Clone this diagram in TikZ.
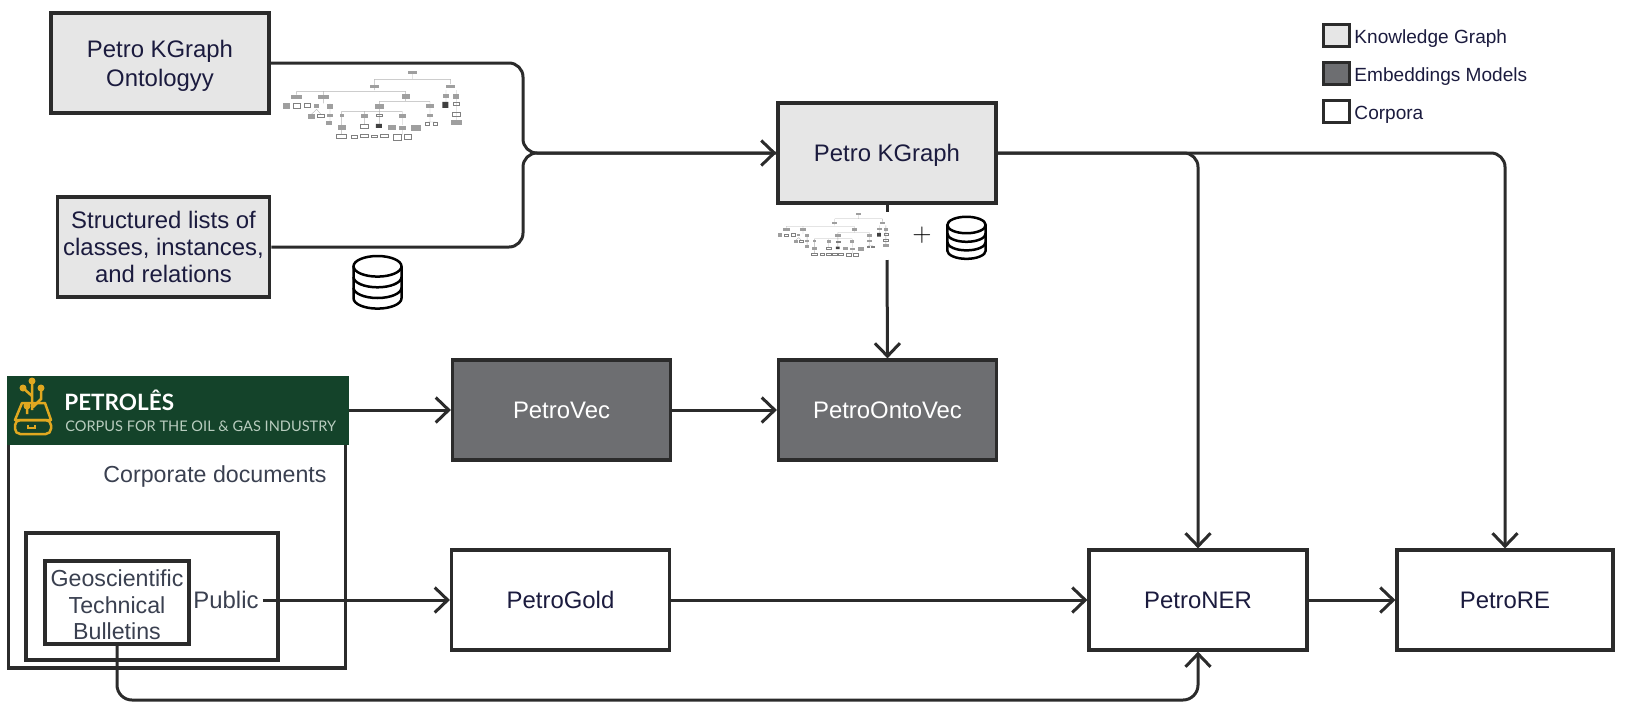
\documentclass[tikz,border=0pt]{standalone}
\usepackage{xcolor}
\usepackage{fontspec}
\setmainfont{Liberation Sans}
\newfontfamily\logofont{Lato}
\usetikzlibrary{arrows.meta,positioning}
\definecolor{colframe}{HTML}{2B2B2B}
\definecolor{colkg}{HTML}{E6E6E6}
\definecolor{colemb}{HTML}{6D6E71}
\definecolor{colink}{HTML}{1B1B3E}
\definecolor{colcorp}{HTML}{3A4050}
\definecolor{colbanner}{HTML}{14432A}
\definecolor{colgold}{HTML}{E0A820}
\definecolor{colsub}{HTML}{B9CDBF}
\tikzstyle{conn}=[colframe,line width=0.06cm,-{Straight Barb[length=0.26cm,width=0.5cm]}]
\tikzstyle{line}=[colframe,line width=0.06cm]
\tikzstyle{box}=[draw=colframe,line width=0.065cm,minimum width=4.36cm,minimum height=2cm,align=center,text=colink,text depth=0pt,font=\fontsize{13.6}{15.8}\selectfont]
\tikzstyle{kgbox}=[box,fill=colkg]
\tikzstyle{embbox}=[box,fill=colemb,text=white]
\tikzstyle{corpbox}=[box,fill=white]
\tikzstyle{legbox}=[draw=colframe,line width=0.065cm,minimum width=0.52cm,minimum height=0.44cm,inner sep=0pt]
\tikzstyle{legtext}=[text=colink,font=\fontsize{10.85}{13}\selectfont,inner sep=0pt,text depth=0pt,yshift=-0.03cm]
\tikzset{
  dbicon/.pic={
    \draw[black,line width=0.05cm] (0,0) ellipse [x radius=24,y radius=10.3];
    \draw[black,line width=0.05cm] (-24,0) -- (-24,32) arc [start angle=180,end angle=0,x radius=24,y radius=10.3] -- (24,0);
    \draw[black,line width=0.05cm] (-24,10.7) arc [start angle=180,end angle=0,x radius=24,y radius=10.3];
    \draw[black,line width=0.05cm] (-24,21.4) arc [start angle=180,end angle=0,x radius=24,y radius=10.3];
  },
  minitree/.pic={
    \draw[gray!60,line width=0.2pt] (457,67) -- (457,88) (343,88) -- (572,88) (343,88) -- (343,120) (572,88) -- (572,102)
      (110,124) -- (437,124) (110,124) -- (110,134) (190,124) -- (190,160) (437,124) -- (437,154) (358,154) -- (510,154)
      (358,154) -- (358,184) (245,184) -- (427,184) (245,184) -- (245,225) (314,184) -- (314,225) (358,184) -- (358,222)
      (427,184) -- (427,225) (510,154) -- (510,216) (503,216) -- (526,216) (558,120) -- (558,160) (589,120) -- (589,210)
      (170,178) -- (155,192) (170,178) -- (182,192) (210,160) -- (210,214) (245,240) -- (245,252) (427,240) -- (427,255);
    \foreach \x/\y/\w/\h in {457/67/26/10,343/109/26/10,572/110/26/10,110/141/32/14,190/141/32/14,437/139/24/14,558/138/20/12,589/140/18/14,
      79/167/20/18,170/167/16/12,210/169/20/14,358/169/26/16,510/168/26/14,155/199/20/14,210/196/18/10,208/220/18/12,245/196/12/10,
      314/198/20/14,427/198/20/12,510/196/20/10,589/218/32/14,246/232/22/14,395/232/24/14,427/233/22/12,468/234/28/20}
      \fill[gray!75] (\x-\w/2,\y-\h/2) rectangle ++(\w,\h);
    \foreach \x/\y/\w/\h in {110/167/22/14,142/165/20/12,182/197/20/10,314/229/24/10,589/162/20/10,590/193/24/10,503/222/12/8,526/222/12/8,
      245/258/30/12,283/260/20/10,313/258/22/8,343/258/20/6,374/258/24/8,412/262/24/16,443/260/22/14,358/197/20/6}
      \draw[gray,line width=0.3pt] (\x-\w/2,\y-\h/2) rectangle ++(\w,\h);
    \fill[black!75] (547,156) rectangle ++(18,18) (348,222) rectangle ++(18,12);
  }
}

\begin{document}
\begin{tikzpicture}[x=0.02cm,y=-0.02cm]
\useasboundingbox (0,0) rectangle (1629,714);

% top left
\node[kgbox,font=\fontsize{13.6}{16.5}\selectfont] (ontology) at (160,63) {Petro KGraph\\Ontologyy};
\node[kgbox,minimum width=4.22cm,font=\fontsize{13.6}{15.3}\selectfont] (lists) at (163.5,247) {Structured lists of\\classes, instances,\\and relations};
\node[kgbox] (kgraph) at (887,153) {Petro KGraph};
\coordinate (merge) at (523,153);

% embeddings
\node[embbox] (petrovec) at (561.5,410) {PetroVec};
\node[embbox] (ontovec) at (887.5,410) {PetroOntoVec};

% corpora
\node[draw=colframe,line width=0.065cm,minimum width=6.74cm,minimum height=5.8cm] (corporate) at (177,523) {};
\node[fill=colbanner,minimum width=6.84cm,minimum height=1.38cm,inner sep=0pt] (banner) at (178,410) {};
\node[text=colcorp,font=\fontsize{13.2}{15.8}\selectfont] (corptext) at (215,476) {Corporate documents};
\node[draw=colframe,line width=0.065cm,minimum width=5.04cm,minimum height=2.54cm] (publicbox) at (152,596.5) {};
\node[draw=colframe,line width=0.065cm,minimum width=2.88cm,minimum height=1.66cm,inner sep=0pt,align=center,text=colcorp,font=\fontsize{13.2}{15.1}\selectfont] (geo) at (117,602.5) {\rule{0pt}{0.95em}Geoscientific\\Technical\\Bulletins};
\node[text=colcorp,inner xsep=0.08cm,font=\fontsize{13.6}{15.8}\selectfont] (public) at (226,600) {Public};
\node[corpbox] (petrogold) at (560.5,600) {PetroGold};
\node[corpbox] (petroner) at (1198,600) {PetroNER};
\node[corpbox,minimum width=4.32cm] (petrore) at (1505,600) {PetroRE};

% banner logo
\node[anchor=west,inner sep=0pt,text=white,font=\logofont\bfseries\fontsize{12.8}{14}\selectfont] (logotitle) at (64,400) {PETROLÊS};
\node[anchor=west,inner sep=0pt,text=colsub,font=\logofont\fontsize{8.3}{10}\selectfont] (logosub) at (65,426) {CORPUS FOR THE OIL \& GAS INDUSTRY};
\draw[colgold,line width=0.05cm,line join=round] (22,403) -- (45,403) -- (51,420) -- (15,420) -- cycle;
\draw[colgold,line width=0.05cm,rounded corners=3] (15,420) rectangle (51,434);
\draw[colgold,line width=0.05cm] (28,425) -- (28,428) -- (35,428) -- (35,425);
\draw[colgold,line width=0.05cm] (32,382) -- (32,410) (23,388) -- (32,396) (41,388) -- (41,399) -- (33,407) (27,406) -- (27,414);
\fill[colgold] (32,381) circle (3.5) (23,388) circle (3.5) (41,388) circle (3.5) (27,406) circle (3.5);

% legend
\node[legbox,fill=colkg] (legkg) at (1336.5,35.5) {};
\node[legbox,fill=colemb] (legemb) at (1336.5,73.5) {};
\node[legbox,fill=white] (legcorp) at (1336.5,111.5) {};
\node[legtext,right=0.06cm of legkg] (legkgtext) {Knowledge Graph};
\node[legtext,right=0.06cm of legemb] (legembtext) {Embeddings Models};
\node[legtext,right=0.06cm of legcorp] (legcorptext) {Corpora};

% icons
\pic at (260,50) [scale=0.3333] {minitree};
\pic at (763.4,200.5) [scale=0.208] {minitree};
\pic at (377.5,266.3) {dbicon};
\pic at (966.5,225) [scale=0.8] {dbicon};
\node[text=black,font=\fontsize{14}{14}\selectfont,inner sep=0pt] (plus) at (922,235) {$+$};

% connectors
\coordinate (treetop) at (887,212);
\coordinate (treebottom) at (887,260);
\coordinate (bottomrun) at (700,700);
\draw[line,rounded corners=0.28cm] (ontology.east) -| (merge) -- (kgraph.west);
\draw[conn,rounded corners=0.28cm] (lists.east) -| (merge) -- (kgraph.west);
\draw[conn,rounded corners=0.28cm] (kgraph.east) -| (petroner.north);
\draw[conn,rounded corners=0.28cm] (kgraph.east) -| (petrore.north);
\draw[line] (kgraph.south) -- (treetop);
\draw[conn] (treebottom) -- (ontovec.north);
\draw[conn] (banner.east) -- (petrovec.west);
\draw[conn] (petrovec.east) -- (ontovec.west);
\draw[conn] (public.east) -- (petrogold.west);
\draw[conn] (petrogold.east) -- (petroner.west);
\draw[conn] (petroner.east) -- (petrore.west);
\draw[conn,rounded corners=0.3cm] (geo.south) |- (bottomrun) -| (petroner.south);

\end{tikzpicture}
\end{document}
